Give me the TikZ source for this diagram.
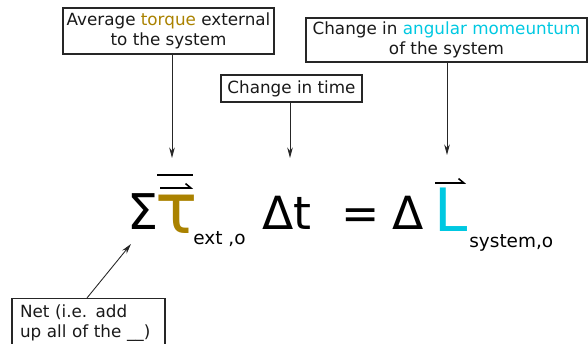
\documentclass[tikz,border=0pt]{standalone}
\usepackage{fontspec}
\setmainfont{DejaVu Sans}
\usepackage{xcolor}
\usetikzlibrary{arrows.meta}
\definecolor{torquegold}{RGB}{170,130,0}
\definecolor{momcyan}{RGB}{0,200,225}

\begin{document}
\begin{tikzpicture}[
    note/.style={draw=black!85, line width=0.6pt, inner sep=0pt, align=center,
      font=\fontsize{9.55}{11.5}\selectfont, text=black!90},
    arr/.style={-{Stealth[length=6pt, width=3.2pt]}, line width=0.5pt, black!85},
    sym/.style={anchor=base west, inner sep=0pt},
    sub/.style={anchor=base west, inner sep=0pt,
      font=\fontsize{10.5}{12}\selectfont},
    vbar/.style={line width=0.9pt},
    harp/.style={-{Straight Barb[left, length=3pt, width=5pt]}, line width=0.9pt},
  ]
    \useasboundingbox (0,0) rectangle (11.76,6.88);

    % ═══ Equation ═══
    \node[sym, font=\fontsize{28}{28}\selectfont] (sum) at (2.54, 2.28) {Σ};
    \node[sym, font=\fontsize{40}{40}\selectfont, text=torquegold] (tau)
      at (3.10, 2.20) {τ};
    \node[sub] (tausub) at (3.86, 1.98) {ext ,o};
    \node[sym, font=\fontsize{26}{26}\selectfont] (dt) at (5.24, 2.28) {Δt};
    \node[sym, font=\fontsize{26}{26}\selectfont] (eq) at (6.82, 2.28) {=};
    \node[sym, font=\fontsize{26}{26}\selectfont] (delta) at (7.84, 2.28) {Δ};
    \node[sym, font=\fontsize{34}{34}\selectfont, text=momcyan] (mom)
      at (8.68, 2.24) {L};
    \node[sub] (momsub) at (9.38, 1.92) {system,o};

    % vector marks
    \draw[vbar] (3.14, 3.38) -- (3.86, 3.38);
    \draw[harp] (3.20, 3.12) -- (3.86, 3.12);
    \draw[harp] (8.70, 3.22) -- (9.32, 3.22);

    % ═══ Labels ═══
    \node[note, minimum width=4.22cm, minimum height=0.92cm] (avg)
      at (3.37, 6.26) {Average \textcolor{torquegold}{torque} external\\to the system};
    \node[note, minimum width=2.82cm, minimum height=0.54cm] (time)
      at (5.83, 5.11) {Change in time};
    \node[note, minimum width=5.62cm, minimum height=0.88cm] (change)
      at (8.93, 6.08) {Change in \textcolor{momcyan}{angular momeuntum}\\of the system};
    \node[note, align=left, text width=2.74cm, inner xsep=0.16cm,
      minimum height=1.0cm] (net) at (1.77, 0.41)
      {Net (i.e. add\\up all of the \_\_)};

    % arrow tips
    \coordinate (tautip) at (3.44, 3.72);
    \coordinate (dttip) at (5.80, 3.72);
    \coordinate (momtip) at (8.94, 3.78);
    \coordinate (sumtip) at (2.62, 2.00);

    \draw[arr] (avg.south -| tautip) -- (tautip);
    \draw[arr] (time.south -| dttip) -- (dttip);
    \draw[arr] (change.south -| momtip) -- (momtip);
    \draw[arr] (net.north -| 1.74,0) -- (sumtip);
  \end{tikzpicture}
\end{document}
